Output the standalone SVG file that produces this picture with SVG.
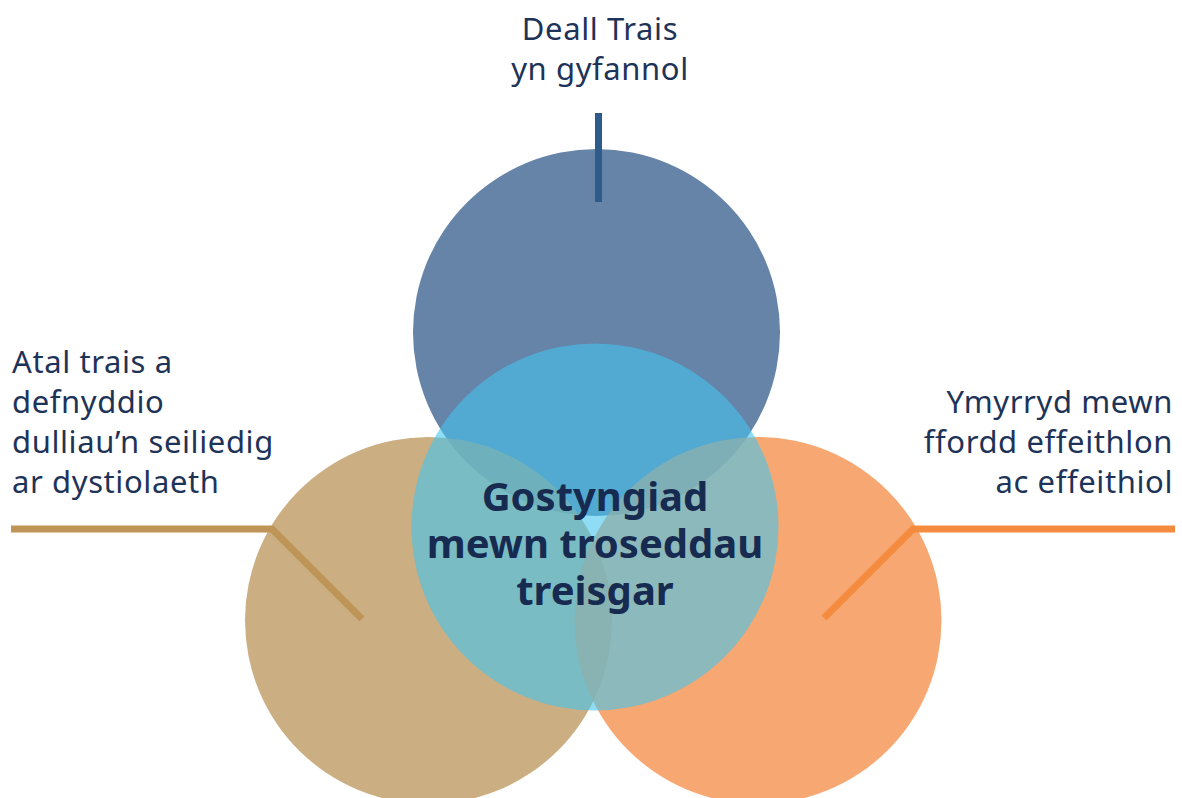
<svg xmlns="http://www.w3.org/2000/svg" width="1182" height="798" viewBox="0 0 1182 798">
<style>
.lbl{font-family:"Noto Sans","Open Sans",sans-serif;font-size:31px;letter-spacing:0.6px;fill:#1e3358}
.ctr{font-family:"Noto Sans","Open Sans",sans-serif;font-size:40px;font-weight:bold;fill:#172b50}
</style>
<rect width="1182" height="798" fill="#ffffff"/>
<g id="node-top"><circle cx="596.5" cy="332.5" r="183.5" fill="#6683a8"/></g>
<g id="node-left"><circle cx="428.5" cy="620.5" r="183.5" fill="#be9a63" fill-opacity="0.8"/></g>
<g id="node-right"><circle cx="758" cy="620.5" r="183.5" fill="#f5924f" fill-opacity="0.8"/></g>
<g id="node-center">
<circle cx="595" cy="527" r="183.5" fill="#44c5ee" fill-opacity="0.6"/>
<text class="ctr" text-anchor="middle"><tspan x="595" y="511">Gostyngiad</tspan><tspan x="595" y="558">mewn troseddau</tspan><tspan x="595" y="605">treisgar</tspan></text>
</g>
<g id="connectors" fill="none" stroke-width="7">
<line x1="598.5" y1="113" x2="598.5" y2="202" stroke="#2f5a8c"/>
<polyline points="11,529 272,529 362,619" stroke="#bf9457"/>
<polyline points="1175,529 913,529 824,618" stroke="#f58b3f"/>
</g>
<g id="label-top"><text class="lbl" text-anchor="middle"><tspan x="600" y="40">Deall Trais</tspan><tspan x="600" y="80">yn gyfannol</tspan></text></g>
<g id="label-left"><text class="lbl"><tspan x="12" y="373">Atal trais a</tspan><tspan x="12" y="413">defnyddio</tspan><tspan x="12" y="453">dulliau’n seiliedig</tspan><tspan x="12" y="493">ar dystiolaeth</tspan></text></g>
<g id="label-right"><text class="lbl" text-anchor="end"><tspan x="1173" y="413">Ymyrryd mewn</tspan><tspan x="1173" y="453">ffordd effeithlon</tspan><tspan x="1173" y="493">ac effeithiol</tspan></text></g>
</svg>
